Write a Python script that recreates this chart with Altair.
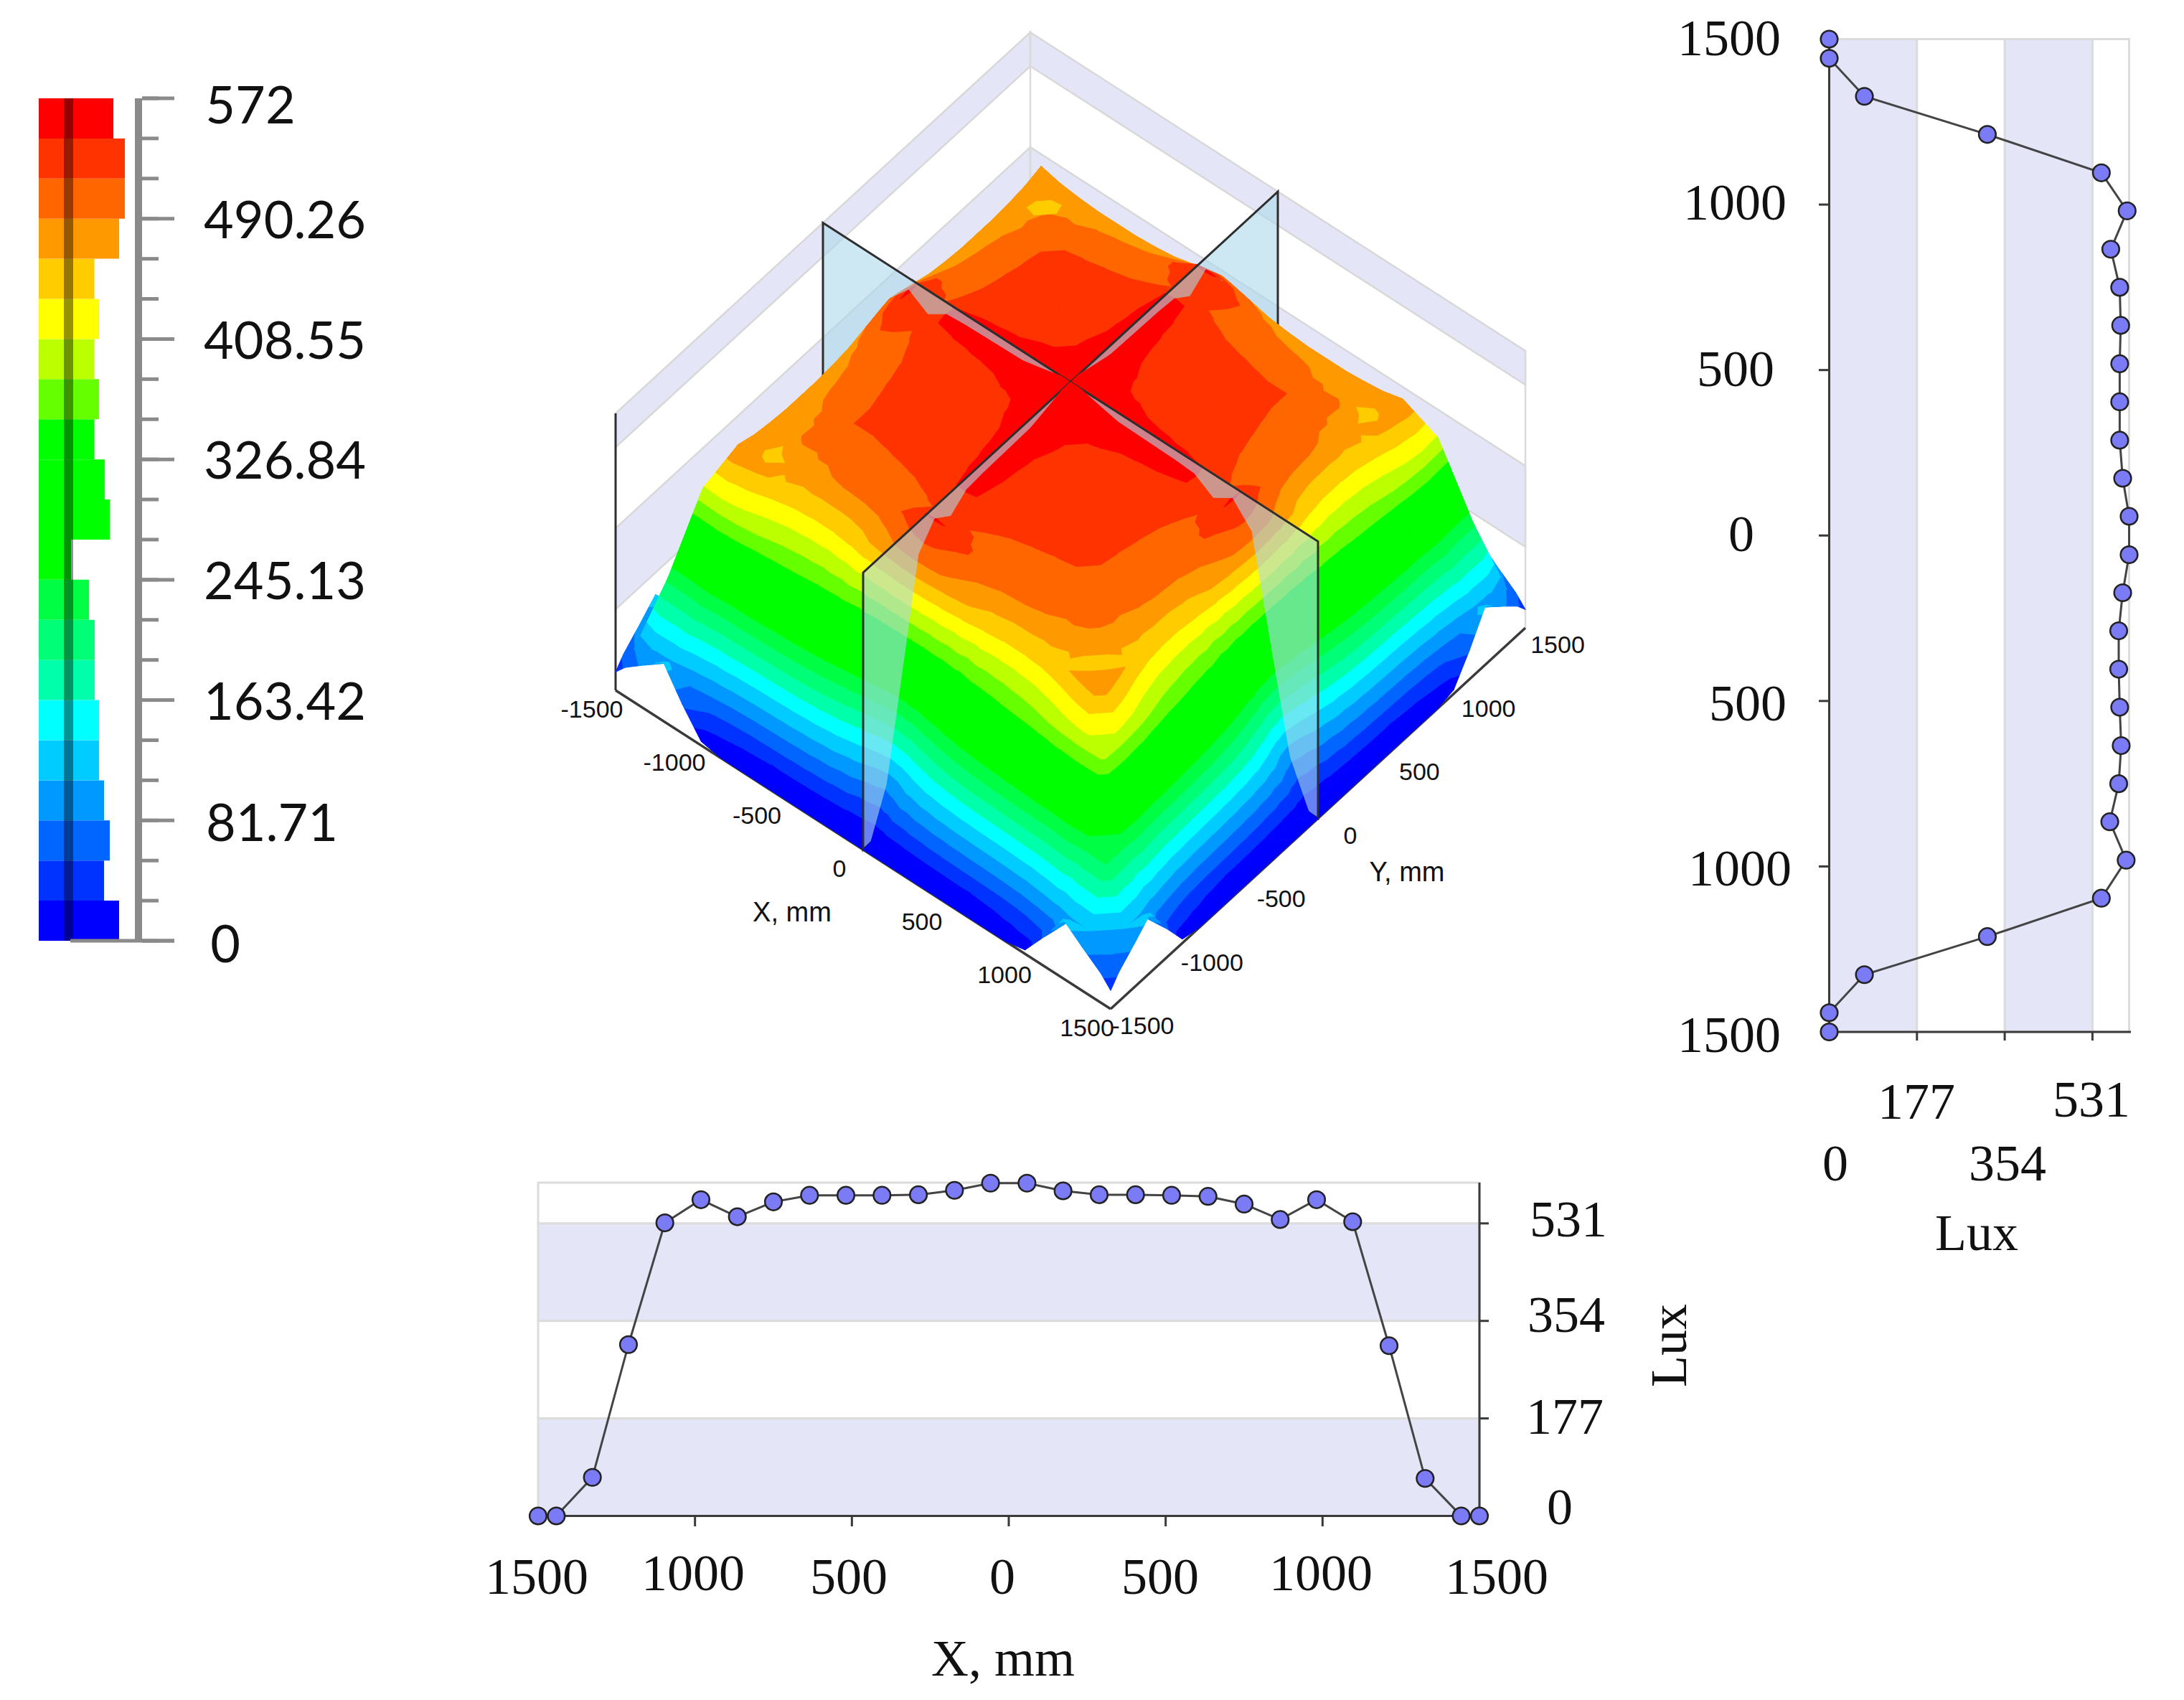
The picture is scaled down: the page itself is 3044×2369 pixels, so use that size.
import altair as alt

# ---------- data ----------
GRID_MM = [0, 58, 173, 288, 404, 519, 635, 750, 865, 981, 1096, 1212, 1327, 1442, 1500]
# illuminance on one quadrant, rows |Y|, columns |X| (the surface has near four-fold symmetry)
Q = [
 [572,572,562,553,552,551,550,547,522,547,504,294, 90,  2,  0],
 [572,570,560,552,550,549,548,545,522,545,500,296,105,  6,  0],
 [562,560,546,544,540,538,535,530,512,522,485,305,145, 12,  0],
 [553,552,544,540,537,533,530,522,505,505,465,320,175, 18,  0],
 [552,550,540,537,535,530,526,518,502,495,445,338,195, 22,  0],
 [551,549,538,533,530,528,525,516,500,491,435,345,208, 25,  0],
 [550,548,535,530,526,525,525,514,498,489,435,355,215, 28,  0],
 [547,545,530,522,518,516,514,514,498,483,440,365,220, 32,  0],
 [522,522,512,505,502,500,498,498,500,470,455,380,225, 42,  0],
 [547,545,522,505,495,491,489,483,470,450,475,400,225, 60,  8],
 [504,500,485,465,445,435,435,440,455,475,490,410,235, 80, 60],
 [294,296,305,320,338,345,355,365,380,400,410,405,225,105,122],
 [ 90,105,145,175,195,208,215,220,225,225,235,225,225,110, 90],
 [  2,  6, 12, 18, 22, 25, 28, 32, 42, 60, 80,105,110, 78, 60],
 [  0,  0,  0,  0,  0,  0,  0,  0,  0,  8, 60,122, 90, 60, 38],
]
# the far-side ridge at |s| = 1096, seen on the back silhouette
BACK_RIDGE = [504,500,490,480,475,472,472,472,475,480,490]
LEGEND_COLORS = ["#0000ff","#0033ff","#0066ff","#0099ff","#00ccff","#00ffff","#00ffaa","#00ff77","#00ff44",
                 "#00ff00","#00ff00","#00ff00","#00ff00","#66ff00","#bbff00","#ffff00","#ffcc00","#ff9900",
                 "#ff6600","#ff3300","#ff0000"]
LEGEND_HIST = [112,91,99,91,84,84,78,78,70,45,99,92,77.5,84,77.5,84,77.5,112,120,120,104]
LEGEND_MAX = 572
LEGEND_LABELS = [0, 81.71, 163.42, 245.13, 326.84, 408.55, 490.26, 572]

PROFILE_MM = [-1500,-1442,-1327,-1212,-1096,-981,-865,-750,-635,-519,-404,-288,-173,-58,
              58,173,288,404,519,635,750,865,981,1096,1212,1327,1442,1500]
LUX_X = [0,0,70,311,532,574,543,570,582,582,582,583,591,604,604,590,583,583,582,580,566,538,574,534,309,68,0,0]
LUX_Y = [0,0,71,319,549,599,566,584,589,586,584,584,592,605,605,592,586,586,586,588,586,568,601,549,319,71,0,0]
BANDS_LAV = [(0,177),(354,531)]
BANDS_WHITE = [(177,354),(531,605)]
WALL_BANDS = [(177,354),(531,605)]
LUX_TICKS = [177,354,531]
MM_TICKS = [-1000,-500,0,500,1000]
MM_TICKS_3D = ["-1500","-1000","-500","0","500","1000","1500"]

# ---------- layout ----------
W, H = 3028, 2353
LAV, GRID, DARK = "#e4e6f8", "#dcdcdc", "#3a3a3a"
SERIF, SANS, LEGF = "Liberation Serif", "Liberation Sans", "Lato"

def S(dom, a, b):
    return alt.Scale(domain=list(dom), range=[a-8, b-8], nice=False, zero=False)

canvas_x = S([0, 3044], 0, 3044)
canvas_y = S([0, 2369], 0, 2369)
NOAX = None

def enc_xy(xf, yf, xs, ys):
    return dict(x=alt.X(xf, type="quantitative", scale=xs, axis=NOAX), y=alt.Y(yf, type="quantitative", scale=ys, axis=NOAX))

def texts(rows, font, size, dy=0, **kw):
    return alt.Chart(alt.Data(values=[{"x":r[0],"y":r[1]+dy,"t":r[2]} for r in rows])).mark_text(
        font=font, fontSize=size, color="#111111", align="center", baseline="middle", **kw
    ).encode(x=alt.X("x:Q", scale=canvas_x, axis=NOAX), y=alt.Y("y:Q", scale=canvas_y, axis=NOAX), text="t:N")

# ---------- 3-D projection ----------
O = (858.0, 962.0); UX = (690.0, 444.0); VX = (578.0, -531.0); ZPX = 386.0/572

def proj(X, Y, zpx):
    u = (X+1500)/3000; v = (Y+1500)/3000
    return [O[0]+UX[0]*u+VX[0]*v-8, O[1]+UX[1]*u+VX[1]*v-zpx-8]

def poly(pts, **props):
    ring = pts + [pts[0]]
    d = {"type":"Feature","geometry":{"type":"Polygon","coordinates":[ring]},"properties":{}}
    d.update(props)
    return d

AXIS_VALS = [-s for s in GRID_MM[:0:-1]] + GRID_MM
def zat(X, Y):
    i, j = GRID_MM.index(abs(X)), GRID_MM.index(abs(Y))
    if X == -1096 and j < len(BACK_RIDGE):
        return BACK_RIDGE[j]
    if Y == 1096 and i < len(BACK_RIDGE):
        return BACK_RIDGE[i]
    return Q[j][i]

STEP = LEGEND_MAX/21
def clip(tri, lo, hi):
    def cut(pts, lim, keep_above):
        out = []
        n = len(pts)
        for i in range(n):
            a, b = pts[i], pts[(i+1) % n]
            ina = a[2] >= lim if keep_above else a[2] <= lim
            inb = b[2] >= lim if keep_above else b[2] <= lim
            if ina: out.append(a)
            if ina != inb:
                t = (lim-a[2])/(b[2]-a[2])
                out.append((a[0]+t*(b[0]-a[0]), a[1]+t*(b[1]-a[1]), lim))
        return out
    p = cut(tri, lo, True)
    if p: p = cut(p, hi, False)
    return p

def surface(xsign, ysign):
    feats = []
    xs = [v for v in AXIS_VALS if (v*xsign >= 0)]
    ys = [v for v in AXIS_VALS if (v*ysign >= 0)]
    ys = ys[::-1]
    for i in range(len(xs)-1):
        for j in range(len(ys)-1):
            x0, x1, y0, y1 = xs[i], xs[i+1], ys[j], ys[j+1]
            c = [(x, y, zat(x, y)) for x, y in [(x0,y0),(x1,y0),(x1,y1),(x0,y1)]]
            for tri in ([c[0], c[1], c[3]], [c[1], c[2], c[3]]):
                zs = [t[2] for t in tri]
                for k in range(21):
                    lo, hi = k*STEP, (k+1)*STEP
                    if max(zs) < lo or min(zs) > hi: continue
                    if max(zs) == lo or (min(zs) == hi and k < 20): continue
                    p = clip(tri, lo, hi)
                    if len(p) >= 3:
                        feats.append(poly([proj(a, b, z*ZPX) for a, b, z in p], v=(k+0.5)*STEP))
    return feats

THRESH = [k*STEP for k in range(1, 21)]
fill_scale = alt.Scale(type="threshold", domain=THRESH, range=LEGEND_COLORS)

def geo(feats, mark):
    return alt.Chart(alt.Data(values=feats)).mark_geoshape(**mark).project(type="identity", scale=1, translate=[0, 0])

def surf_layer(xs, ys):
    return geo(surface(xs, ys), dict(strokeWidth=1, filled=True)).encode(
        fill=alt.Fill("v:Q", scale=fill_scale, legend=None),
        stroke=alt.Stroke("v:Q", scale=fill_scale, legend=None))

WALL_Z = 386.0/605
def wall_polys():
    out = []
    for lo, hi in WALL_BANDS:
        a, b = lo*WALL_Z, hi*WALL_Z
        out.append(poly([proj(-1500,-1500,a), proj(-1500,1500,a), proj(-1500,1500,b), proj(-1500,-1500,b)]))
        out.append(poly([proj(-1500,1500,a), proj(1500,1500,a), proj(1500,1500,b), proj(-1500,1500,b)]))
    return out

walls = geo(wall_polys(), dict(fill=LAV, stroke="#d8d8d8", strokeWidth=2.5))

def wall_lines():
    t = 386
    rows = [[proj(-1500,1500,0), proj(-1500,1500,t)], [proj(1500,1500,0), proj(1500,1500,t)]]
    return [poly(r) for r in rows]
wall_edges = geo(wall_lines(), dict(fill="transparent", stroke="#dadada", strokeWidth=2.5))

def plane(p0, p1):
    t = 386
    return poly([proj(*p0, 0), proj(*p1, 0), proj(*p1, t), proj(*p0, t)])

def plane_layer(polys):
    return geo(polys, dict(fill="#acd8e9", fillOpacity=0.6, stroke="#2e2e2e", strokeWidth=3))

# floor axes
xaxis_line = alt.Chart(alt.Data(values=[{"v":-1500},{"v":1500}])).mark_line(color=DARK, strokeWidth=3.5).encode(
    **enc_xy("v", "v", S([-1500,1500],858,1548), S([-1500,1500],962,1406)))
yaxis_line = alt.Chart(alt.Data(values=[{"v":-1500},{"v":1500}])).mark_line(color=DARK, strokeWidth=3.5).encode(
    **enc_xy("v", "v", S([-1500,1500],1548,2126), S([-1500,1500],1406,875)))
left_edge = geo([poly([proj(-1500,-1500,0), proj(-1500,-1500,386)])], dict(fill="transparent", stroke="#2e2e2e", strokeWidth=3))

tick_rows = [{"v":float(t),"t":t} for t in MM_TICKS_3D]
x3d_labels = alt.Chart(alt.Data(values=tick_rows)).mark_text(
    font=SANS, fontSize=34, dx=-33, dy=28, color="#111111").encode(
    text="t:N", **enc_xy("v", "v", S([-1500,1500],858,1548), S([-1500,1500],962,1406)))
y3d_labels = alt.Chart(alt.Data(values=tick_rows)).mark_text(
    font=SANS, fontSize=34, dx=45, dy=25, color="#111111").encode(
    text="t:N", **enc_xy("v", "v", S([-1500,1500],1548,2126), S([-1500,1500],1406,875)))
names_3d = texts([(1104,1273,"X, mm"), (1961,1217,"Y, mm")], SANS, 38)

# ---------- colour legend ----------
leg_y = S([0, LEGEND_MAX], 1311, 137)
leg_x = S([0, 120], 54, 174)
leg_rows = [{"lo":k*STEP,"hi":(k+1)*STEP,"mid":(k+0.5)*STEP,"n":LEGEND_HIST[k]} for k in range(21)]
leg_bars = alt.Chart(alt.Data(values=leg_rows)).mark_rect().encode(
    x=alt.X("base:Q", scale=leg_x, axis=NOAX), x2="n:Q",
    y=alt.Y("lo:Q", scale=leg_y, axis=NOAX), y2="hi:Q",
    fill=alt.Fill("mid:Q", scale=fill_scale, legend=None)
).transform_calculate(base="0")
leg_shade = alt.Chart(alt.Data(values=[{"a":0,"b":LEGEND_MAX}])).mark_rect(color="#000000", opacity=0.42).encode(
    x=alt.value(81), x2=alt.value(94), y=alt.Y("a:Q", scale=leg_y, axis=NOAX), y2="b:Q")
leg_axis = alt.Chart(alt.Data(values=[{"a":0,"b":LEGEND_MAX}])).mark_rect(color="#8a8a8a").encode(
    x=alt.value(180), x2=alt.value(190), y=alt.Y("a:Q", scale=leg_y, axis=NOAX), y2="b:Q")
leg_base = alt.Chart(alt.Data(values=[{"a":0}])).mark_rule(color="#8a8a8a", strokeWidth=5).encode(
    x=alt.value(90), x2=alt.value(235), y=alt.Y("a:Q", scale=leg_y, axis=NOAX))
leg_minor = alt.Chart(alt.Data(values=[{"a":k*STEP} for k in range(22)])).mark_rule(color="#8a8a8a", strokeWidth=5).encode(
    x=alt.value(190), x2=alt.value(213), y=alt.Y("a:Q", scale=leg_y, axis=NOAX))
leg_major = alt.Chart(alt.Data(values=[{"a":v} for v in LEGEND_LABELS])).mark_rule(color="#8a8a8a", strokeWidth=5).encode(
    x=alt.value(190), x2=alt.value(235), y=alt.Y("a:Q", scale=leg_y, axis=NOAX))
leg_text = texts([(349,144,"572"),(397,304,"490.26"),(397,472,"408.55"),(397,639,"326.84"),
                  (397,807,"245.13"),(397,975,"163.42"),(379,1144,"81.71"),(314,1313,"0")], LEGF, 72, dy=6)

# ---------- bottom profile ----------
bx = S([-1500,1500], 750, 2062)
by = S([0,605], 2112.5, 1648)
def band_rects(bands, fill, xs, ys, horizontal):
    data = alt.Data(values=[{"a":a,"b":b} for a,b in bands])
    m = alt.Chart(data).mark_rect(fill=fill, stroke=GRID, strokeWidth=3)
    if horizontal:
        return m.encode(y=alt.Y("a:Q", scale=ys, axis=NOAX), y2="b:Q",
                        x=alt.X("l:Q", scale=xs, axis=NOAX), x2="r:Q").transform_calculate(l="-1500", r="1500")
    return m.encode(x=alt.X("a:Q", scale=xs, axis=NOAX), x2="b:Q",
                    y=alt.Y("l:Q", scale=ys, axis=NOAX), y2="r:Q").transform_calculate(l="-1500", r="1500")

def series(xv, yv, xs, ys):
    data = alt.Data(values=[{"a":a,"b":b,"i":i} for i,(a,b) in enumerate(zip(xv,yv))])
    e = enc_xy("a","b",xs,ys)
    line = alt.Chart(data).mark_line(color="#444444", strokeWidth=3).encode(order="i:Q", **e)
    pts = alt.Chart(data).mark_point(filled=True, fill="#7b7bf6", stroke="#222222", strokeWidth=2.5,
                                     size=560, opacity=1, shape="circle").encode(**e)
    return [line, pts]

def rule_h(v_list, ys, x0, x1, color=DARK, w=3):
    return alt.Chart(alt.Data(values=[{"v":v} for v in v_list])).mark_rule(color=color, strokeWidth=w).encode(
        y=alt.Y("v:Q", scale=ys, axis=NOAX), x=alt.value(x0-8), x2=alt.value(x1-8))
def rule_v(v_list, xs, y0, y1, color=DARK, w=3):
    return alt.Chart(alt.Data(values=[{"v":v} for v in v_list])).mark_rule(color=color, strokeWidth=w).encode(
        x=alt.X("v:Q", scale=xs, axis=NOAX), y=alt.value(y0-8), y2=alt.value(y1-8))

bottom = [
    band_rects(BANDS_LAV, LAV, bx, by, True), band_rects(BANDS_WHITE, "#ffffff", bx, by, True),
    rule_h([0], by, 750, 2062), rule_v([1500], bx, 1648, 2125),
    rule_h(LUX_TICKS, by, 2062, 2075), rule_v(MM_TICKS, bx, 2112, 2127),
] + series(PROFILE_MM, LUX_X, bx, by) + [
    texts([(748,2196,"1500"),(966,2191,"1000"),(1183,2196,"500"),(1397,2196,"0"),(1617,2196,"500"),
           (1841,2191,"1000"),(2086,2196,"1500"),(2186,1698,"531"),(2183,1831,"354"),(2181,1973,"177"),
           (2174,2099,"0"),(1398,2310,"X, mm")], SERIF, 72, dy=3),
    texts([(2328,1875,"Lux")], SERIF, 72, angle=270),
]

# ---------- right profile ----------
rx = S([0,608], 2549.5, 2969.6)
ry = S([-1500,1500], 1438, 54.5)
right = [
    band_rects(BANDS_LAV, LAV, rx, ry, False), band_rects(BANDS_WHITE, "#ffffff", rx, ry, False),
    rule_v([0], rx, 54, 1438), rule_h([-1500], ry, 2549, 2970),
    rule_h(MM_TICKS, ry, 2535, 2549), rule_v(LUX_TICKS, rx, 1438, 1450),
] + series(LUX_Y, PROFILE_MM, rx, ry) + [
    texts([(2410,52,"1500"),(2418,281,"1000"),(2419,513,"500"),(2427,743,"0"),(2436,979,"500"),(2425,1209,"1000"),
           (2410,1441,"1500"),(2671,1534,"177"),(2915,1531,"531"),(2558,1620,"0"),(2798,1620,"354"),
           (2755,1717,"Lux")], SERIF, 72, dy=3),
]

legend = [leg_bars, leg_shade, leg_axis, leg_base, leg_minor, leg_major, leg_text]

scene = [walls, wall_edges, xaxis_line, yaxis_line, left_edge,
         surf_layer(-1, 1),
         plane_layer([plane((-1500,0),(0,0)), plane((0,0),(0,1500))]),
         surf_layer(-1, -1), surf_layer(1, 1),
         plane_layer([plane((0,0),(1500,0)), plane((0,-1500),(0,0))]),
         surf_layer(1, -1),
         x3d_labels, y3d_labels, names_3d]

chart = alt.layer(*(legend + bottom + right + scene)).resolve_scale(x="independent", y="independent").properties(
    width=W, height=H, padding=0, autosize=alt.AutoSizeParams(type="none"), background="white"
).configure_view(stroke=None)

chart.save("out.html", embed_options={"renderer": "svg", "actions": False})
